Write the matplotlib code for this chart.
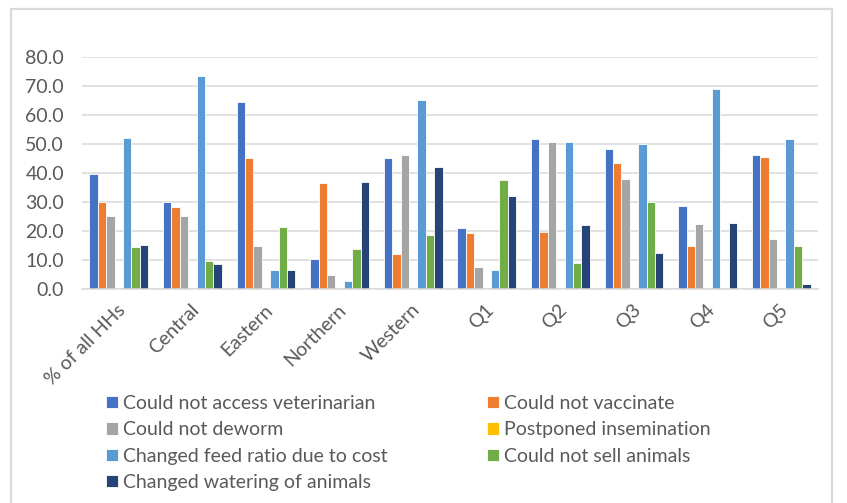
import matplotlib
matplotlib.use("Agg")
import matplotlib.pyplot as plt
from matplotlib.patches import Rectangle
from matplotlib.ticker import FixedLocator, FuncFormatter
from matplotlib.transforms import ScaledTranslation
import numpy as np

plt.rcParams["font.family"] = ["Lato", "DejaVu Sans"]

categories = ["% of all HHs", "Central", "Eastern", "Northern", "Western",
              "Q1", "Q2", "Q3", "Q4", "Q5"]

series_names = [
    "Could not access veterinarian",
    "Could not vaccinate",
    "Could not deworm",
    "Postponed insemination",
    "Changed feed ratio due to cost",
    "Could not sell animals",
    "Changed watering of animals",
]

access_vet   = [39.7, 30.0, 64.6, 10.5, 45.4, 21.1, 51.8, 48.4, 28.5, 46.1]
vaccinate    = [30.0, 28.2, 45.1, 36.6, 12.1, 19.4, 19.8, 43.4, 14.7, 45.7]
deworm       = [25.1, 25.1, 14.7, 4.8, 46.2, 7.5, 50.7, 38.0, 22.4, 17.4]
insemination = [0.0, 0.0, 0.0, 0.0, 0.0, 0.0, 0.0, 0.0, 0.0, 0.0]
feed_ratio   = [52.2, 73.7, 6.7, 2.9, 65.3, 6.7, 50.7, 50.2, 69.1, 51.8]
sell_animals = [14.4, 9.8, 21.5, 13.9, 18.6, 37.7, 9.0, 30.0, 0.0, 14.7]
watering     = [15.1, 8.6, 6.7, 36.9, 42.0, 32.1, 22.1, 12.4, 22.8, 1.7]

yticks = [0, 10, 20, 30, 40, 50, 60, 70, 80]

colors = ["#4472C4", "#ED7D31", "#A5A5A5", "#FFC000",
          "#5B9BD5", "#70AD47", "#264478"]

text_color = "#595959"
grid_color = "#D9D9D9"

W, H = 847, 503
fig = plt.figure(figsize=(W / 100, H / 100), dpi=100)

# light chart-area frame (open at the bottom edge of the image)
fig.patches.append(Rectangle((11 / W, -0.05), (832 - 11) / W, 1.05 - 9 / H,
                             transform=fig.transFigure, fill=False,
                             edgecolor=grid_color, linewidth=1.6))

ax = fig.add_axes([82 / W, (H - 289) / H, (818 - 82) / W, (289 - 57.3) / H])

all_series = [access_vet, vaccinate, deworm, insemination,
              feed_ratio, sell_animals, watering]
x = np.arange(len(categories))
bw = 0.114
handles = []
for i, (vals, name, c) in enumerate(zip(all_series, series_names, colors)):
    b = ax.bar(x + (i - 3) * bw, vals, width=bw, color=c, label=name,
               edgecolor="white", linewidth=0.6, zorder=2)
    handles.append(b)

ax.set_xlim(-0.5, len(categories) - 0.5)
ax.set_ylim(0, 80)
ax.yaxis.set_major_locator(FixedLocator(yticks))
ax.yaxis.set_major_formatter(FuncFormatter(lambda v, p: f"{v:.1f}"))
ax.grid(axis="y", color=grid_color, linewidth=1.1, zorder=0)
ax.set_axisbelow(True)

for s in ["top", "right", "left"]:
    ax.spines[s].set_visible(False)
ax.spines["bottom"].set_color(grid_color)
ax.spines["bottom"].set_linewidth(1.1)
ax.spines["bottom"].set_zorder(3)

fs = 14
ax.tick_params(axis="y", length=0, pad=13, labelsize=fs, labelcolor=text_color)
ax.tick_params(axis="x", length=0, pad=13, labelsize=fs, labelcolor=text_color)
ax.set_xticks(x)
ax.set_xticklabels(categories, rotation=45, ha="right", va="center",
                   rotation_mode="anchor")
shift = ScaledTranslation(4 / 100, 0, fig.dpi_scale_trans)
for lbl in ax.get_xticklabels():
    lbl.set_transform(lbl.get_transform() + shift)

# two-column legend, filled row by row
hl = 8.6 / fs
common = dict(fontsize=fs, frameon=False, handlelength=hl, handleheight=hl,
              handletextpad=0.25, labelspacing=0.48, borderpad=0,
              borderaxespad=0, labelcolor=text_color, loc="upper left")
leg1 = fig.legend([handles[i] for i in (0, 2, 4, 6)],
                  [series_names[i] for i in (0, 2, 4, 6)],
                  bbox_to_anchor=(106 / W, 1 - 395 / H), **common)
leg2 = fig.legend([handles[i] for i in (1, 3, 5)],
                  [series_names[i] for i in (1, 3, 5)],
                  bbox_to_anchor=(487 / W, 1 - 395 / H), **common)

fig.savefig("out.png", dpi=100)
